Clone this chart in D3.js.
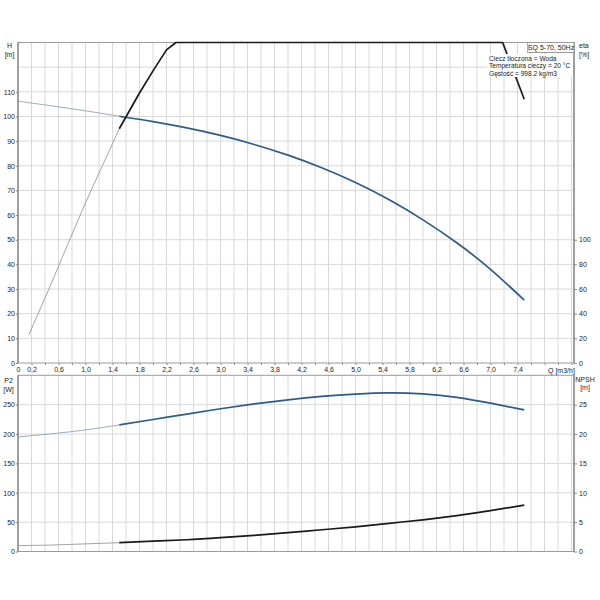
<!DOCTYPE html>
<html>
<head>
<meta charset="utf-8">
<script src="https://cdn.jsdelivr.net/npm/d3@7"></script>
<style>
body{margin:0;background:#fff;}
text{font-family:"Liberation Sans",Arial,sans-serif;fill:#222;}
</style>
</head>
<body>
<div id="chart"></div>
<script>
// pump curve values
var qVals = [0,0.5,1.0,1.5,2.0,2.5,3.0,3.5,4.0,4.5,5.0,5.5,6.0,6.5,7.0,7.5];
var hVals = [106.2,104.3,102.3,100.1,97.9,95.35,92.3,88.65,84.3,79.2,73.2,66.2,58.05,48.75,38.0,25.5];
var etaQ = [0.16,0.45,0.75,1.0,1.25,1.5,1.8,2.0,2.2,2.34,2.6,3.4,4.6,5.8,6.6,7.0,7.18,7.5];
var etaVals = [22.8,59,98,130,160,190,219,237,254,260,274,298,310,302,288,276,260,214];
var p2Vals = [195,200.5,207,215.5,224.7,234.0,243.0,251.2,258.3,264.0,268.0,270.0,268.3,262.5,252.5,241];
var npshVals = [1.0,1.1,1.3,1.5,1.75,2.0,2.35,2.75,3.2,3.7,4.2,4.8,5.4,6.1,6.95,7.9];
var qTicks = [0.2,0.6,1.0,1.4,1.8,2.2,2.6,3.0,3.4,3.8,4.2,4.6,5.0,5.4,5.8,6.2,6.6,7.0,7.4];
var hTicks = [0,10,20,30,40,50,60,70,80,90,100,110];
var etaTicks = [0,20,40,60,80,100];
var p2Ticks = [0,50,100,150,200,250];
var npshTicks = [0,5,10,15,20,25];
var infoLines = ["Ciecz tłoczona = Woda","Temperatura cieczy = 20 °C","Gęstość = 998.2 kg/m3"];
var title = "SQ 5-70, 50Hz";
var thinUpTo = 1.5;

var w = 600, h = 600;
var left = 18, right = 574;
var top1 = 42.5, bot1 = 363;
var top2 = 375.3, bot2 = 551.5;
var blue = "#2d5b8b", thinBlue = "#8fa4bb";
var black = "#1a1a1a", thinGray = "#9a9a9a";
var gridCol = "#d9d9d9", frameCol = "#9a9a9a";
var fs = 7;

var svg = d3.select("#chart").append("svg")
  .attr("width",w)
  .attr("height",h);

var locale = d3.formatLocale({decimal:",", thousands:" ", grouping:[3], currency:["","zł"]});
var qFmt = locale.format(".1f");

var xScale = d3.scaleLinear().domain([0,(right-left)/67.5]).range([left,right]);
var hScale = d3.scaleLinear().domain([0,130]).range([bot1,top1]);
var etaScale = d3.scaleLinear().domain([0,260]).range([bot1,top1]).clamp(true);
var p2Scale = d3.scaleLinear().domain([0,300]).range([bot2,top2]);
var npshScale = d3.scaleLinear().domain([0,30]).range([bot2,top2]);

var gridQ = d3.range(1,42).map((i)=>i*0.2);

// grids
function grid(yScale, yVals, y0, y1){
  var g = svg.append("g").attr("class","grid");
  g.selectAll(".v")
    .data(gridQ)
    .enter()
    .append("line")
    .attr("x1",(d)=>xScale(d)).attr("x2",(d)=>xScale(d))
    .attr("y1",y0).attr("y2",y1)
    .attr("stroke",gridCol).attr("stroke-width",1);
  g.selectAll(".hz")
    .data(yVals)
    .enter()
    .append("line")
    .attr("x1",left).attr("x2",right)
    .attr("y1",(d)=>yScale(d)).attr("y2",(d)=>yScale(d))
    .attr("stroke",gridCol).attr("stroke-width",1);
}
grid(hScale, d3.range(10,130,10), top1, bot1);
grid(p2Scale, d3.range(50,300,50), top2, bot2);

// axes
function styleAxis(g){
  g.select(".domain").remove();
  g.selectAll(".tick line").attr("stroke","#888");
  g.selectAll(".tick text").style("font-size",fs+"px").attr("fill","#222");
}
svg.append("g")
  .attr("transform","translate("+left+",0)")
  .call(d3.axisLeft(hScale).tickValues(hTicks).tickSize(2).tickPadding(1).tickFormat(d3.format("d")))
  .call(styleAxis);
svg.append("g")
  .attr("transform","translate("+right+",0)")
  .call(d3.axisRight(etaScale).tickValues(etaTicks).tickSize(3).tickPadding(2).tickFormat(d3.format("d")))
  .call(styleAxis);
svg.append("g")
  .attr("transform","translate(0,"+bot1+")")
  .call(d3.axisBottom(xScale).tickValues(gridQ.filter((d)=>d<8.21)).tickSize(2).tickFormat(""))
  .call(styleAxis);
svg.append("g")
  .attr("transform","translate(0,"+bot1+")")
  .call(d3.axisBottom(xScale).tickValues([0].concat(qTicks)).tickSize(0).tickPadding(4)
    .tickFormat((d)=>d===0 ? "0" : qFmt(d)))
  .call(styleAxis);
svg.append("g")
  .attr("transform","translate("+left+",0)")
  .call(d3.axisLeft(p2Scale).tickValues(p2Ticks).tickSize(2).tickPadding(1).tickFormat(d3.format("d")))
  .call(styleAxis);
svg.append("g")
  .attr("transform","translate("+right+",0)")
  .call(d3.axisRight(npshScale).tickValues(npshTicks).tickSize(3).tickPadding(2).tickFormat(d3.format("d")))
  .call(styleAxis);

// frames
[[top1,bot1],[top2,bot2]].forEach((p)=>{
  svg.append("rect")
    .attr("x",left).attr("y",p[0])
    .attr("width",right-left).attr("height",p[1]-p[0])
    .attr("fill","none").attr("stroke",frameCol).attr("stroke-width",1);
  svg.append("line")
    .attr("x1",left).attr("x2",left).attr("y1",p[0]).attr("y2",p[1])
    .attr("stroke","#808080").attr("stroke-width",1.2);
  svg.append("line")
    .attr("x1",right).attr("x2",right).attr("y1",p[0]).attr("y2",p[1])
    .attr("stroke","#808080").attr("stroke-width",1.2);
});

// curves: thin before Q=1.5, thick after
function drawCurve(qs, vals, yScale, thinCol, thickCol, curve){
  var pts = qs.map((q,i)=>({q:q, v:vals[i]}));
  var line = d3.line()
    .x((d)=>xScale(d.q))
    .y((d)=>yScale(d.v))
    .curve(curve);
  svg.append("path")
    .datum(pts.filter((d)=>d.q<=thinUpTo))
    .attr("d",line)
    .attr("fill","none").attr("stroke",thinCol).attr("stroke-width",0.9);
  svg.append("path")
    .datum(pts.filter((d)=>d.q>=thinUpTo))
    .attr("d",line)
    .attr("fill","none").attr("stroke",thickCol).attr("stroke-width",1.7)
    .attr("stroke-linejoin","round");
}
drawCurve(qVals, hVals, hScale, thinBlue, blue, d3.curveNatural);
drawCurve(etaQ, etaVals, etaScale, thinGray, black, d3.curveLinear);
drawCurve(qVals, p2Vals, p2Scale, thinBlue, blue, d3.curveNatural);
drawCurve(qVals, npshVals, npshScale, thinGray, black, d3.curveNatural);

// info text
svg.append("rect")
  .attr("x",487).attr("y",54).attr("width",86).attr("height",23)
  .attr("fill","#fff");
svg.selectAll(".info")
  .data(infoLines)
  .enter()
  .append("text")
  .attr("class","info")
  .attr("x",489)
  .attr("y",(d,i)=>61+i*7.3)
  .style("font-size","6.6px")
  .text((d)=>d);
svg.append("rect")
  .attr("x",527.7).attr("y",top1).attr("width",right-527.7).attr("height",10)
  .attr("fill","#fff").attr("stroke",frameCol).attr("stroke-width",1);
svg.append("text")
  .attr("x",551).attr("y",50.3)
  .style("text-anchor","middle")
  .style("font-size",fs+"px")
  .text(title);

// unit labels
var labels = [
  {x:9.5, y:48, t:"H", a:"middle"},
  {x:9.5, y:56.5, t:"[m]", a:"middle"},
  {x:579, y:48, t:"eta", a:"start"},
  {x:579, y:56.5, t:"[%]", a:"start"},
  {x:8.5, y:382.5, t:"P2", a:"middle"},
  {x:8.5, y:391.5, t:"[W]", a:"middle"},
  {x:585, y:381.8, t:"NPSH", a:"middle"},
  {x:585, y:390, t:"[m]", a:"middle"},
  {x:548, y:372.5, t:"Q [m3/h]", a:"start"}
];
labels.forEach((l)=>{
  svg.append("text")
    .attr("x",l.x).attr("y",l.y)
    .style("text-anchor",l.a)
    .style("font-size",fs+"px")
    .text(l.t);
});
</script>
</body>
</html>
